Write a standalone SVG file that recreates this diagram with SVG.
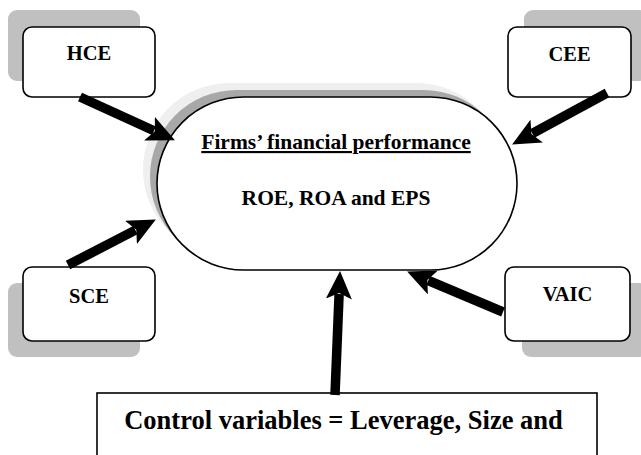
<svg xmlns="http://www.w3.org/2000/svg" width="641" height="455" viewBox="0 0 641 455">
  <style>
    .box { fill: #ffffff; stroke: #000000; stroke-width: 1.6; }
    .shadow { fill: #c0c0c0; stroke: none; }
    .label { font-family: 'Liberation Serif', 'Times New Roman', Times, serif; font-weight: 700; fill: #000000; text-anchor: middle; }
    .arrow { stroke: #000000; stroke-width: 9.5; fill: none; stroke-linecap: butt; marker-end: url(#head); }
  </style>
  <defs>
    <marker id="head" markerUnits="userSpaceOnUse" viewBox="0 0 28 26" markerWidth="28" markerHeight="26" refX="5" refY="13" orient="auto">
      <path d="M0,0 L28,13 L0,26 L6,13 z" fill="#000000"/>
    </marker>
  </defs>

  <rect width="641" height="455" fill="#ffffff"/>

  <!-- Human capital efficiency -->
  <g id="hce">
    <rect class="shadow" x="8" y="10" width="132" height="71" rx="9"/>
    <rect class="box" x="23" y="27" width="132" height="70" rx="9"/>
    <text class="label" font-family="Liberation Serif, Times New Roman, serif" x="89" y="60" font-size="20.5">HCE</text>
  </g>

  <!-- Capital employed efficiency -->
  <g id="cee">
    <rect class="shadow" x="524" y="10" width="124" height="71" rx="9"/>
    <rect class="box" x="508" y="27" width="123" height="70" rx="9"/>
    <text class="label" font-family="Liberation Serif, Times New Roman, serif" x="569.5" y="61" font-size="20.5">CEE</text>
  </g>

  <!-- Structural capital efficiency -->
  <g id="sce">
    <rect class="shadow" x="8" y="283" width="132" height="74" rx="9"/>
    <rect class="box" x="23" y="267" width="132" height="74" rx="9"/>
    <text class="label" font-family="Liberation Serif, Times New Roman, serif" x="89" y="303" font-size="20.5">SCE</text>
  </g>

  <!-- Value added intellectual coefficient -->
  <g id="vaic">
    <rect class="shadow" x="522" y="283" width="126" height="74" rx="9"/>
    <rect class="box" x="505" y="267" width="125" height="74" rx="9"/>
    <text class="label" font-family="Liberation Serif, Times New Roman, serif" x="567.5" y="301" font-size="20.5">VAIC</text>
  </g>

  <!-- Dependent variable: financial performance -->
  <g id="performance">
    <rect x="143" y="83" width="360" height="173" rx="86.5" fill="#efefef"/>
    <rect x="150" y="90" width="360" height="173" rx="86.5" fill="#a8a8a8"/>
    <rect class="box" x="157" y="97" width="360" height="173" rx="86.5"/>
    <text class="label" font-family="Liberation Serif, Times New Roman, serif" x="336" y="149" font-size="21.5" text-decoration="underline">Firms’ financial performance</text>
    <text class="label" font-family="Liberation Serif, Times New Roman, serif" x="336" y="205" font-size="21.5">ROE, ROA and EPS</text>
  </g>

  <!-- Control variables -->
  <g id="controls">
    <rect class="box" x="97" y="393" width="500" height="90" stroke-width="2"/>
    <text class="label" font-family="Liberation Serif, Times New Roman, serif" x="343.5" y="429" font-size="26.5">Control variables = Leverage, Size and</text>
  </g>

  <g id="connectors">
    <line class="arrow" x1="80" y1="97" x2="154" y2="130.8"/>
    <line class="arrow" x1="607" y1="93" x2="532.3" y2="133.5"/>
    <line class="arrow" x1="68" y1="265" x2="135.4" y2="230.1"/>
    <line class="arrow" x1="503" y1="312" x2="428.3" y2="280.5"/>
    <line class="arrow" x1="335" y1="395" x2="339.1" y2="294"/>
  </g>
</svg>
